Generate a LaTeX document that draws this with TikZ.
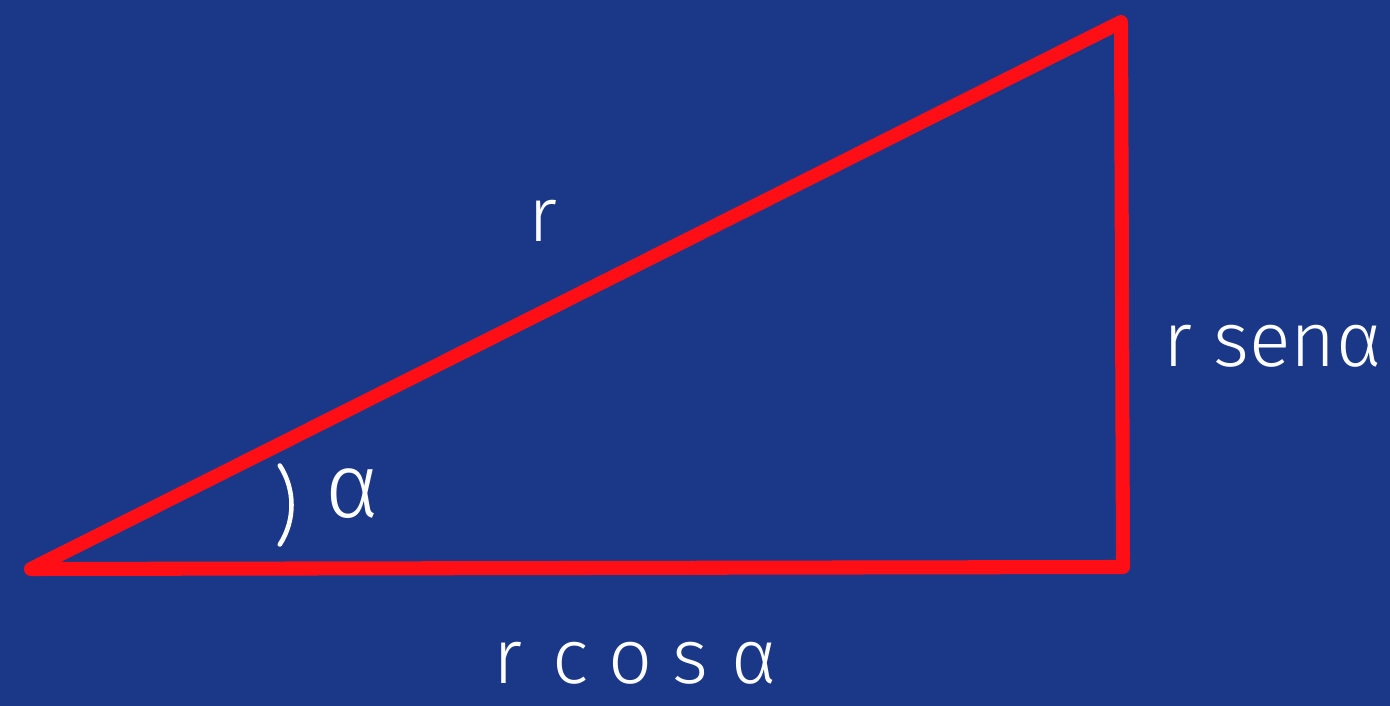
\documentclass[tikz,border=0pt]{standalone}
\usepackage{fontspec}
\setmainfont{Fira Sans Light}
\usetikzlibrary{positioning}
\definecolor{boardblue}{RGB}{26,56,135}
\definecolor{penred}{RGB}{255,14,22}
\tikzset{
  every picture/.style={line width=0.6pt},
  side/.style={draw=penred,line width=8pt,line cap=round,line join=round},
  lbl/.style={text=white,font=\fontsize{44}{50}\selectfont,inner sep=1pt},
  anglemark/.style={draw=white,line width=2.6pt,line cap=round},
}
\begin{document}
\begin{tikzpicture}[x=1cm,y=1cm]
% board
\fill[boardblue] (0,0) rectangle (27.8,14.12);
\useasboundingbox (0,0) rectangle (27.8,14.12);
% vertices
\coordinate (A) at (0.62,2.74);
\coordinate (B) at (22.46,2.78);
\coordinate (C) at (22.42,13.68);
\coordinate (M) at (4.38,4.02);
% triangle
\draw[side] (A) -- (B) -- (C) -- cycle;
% angle mark
\draw[anglemark] ([shift={(-33:1.45)}]M) arc[start angle=-33,end angle=33,radius=1.45];
% labels
\node[lbl] (hyp) at (10.85,9.7) {r};
\node[lbl] (alpha) at (7.05,4.25) {\fontsize{52}{56}\selectfont α};
\node[lbl] (opp) at (25.45,7.2) {r senα};
\node[lbl,inner sep=0pt] (adj) at (12.7,0.85) {r\hspace{0.4em}c\hspace{0.25em}o\hspace{0.25em}s\hspace{0.3em}α};
\end{tikzpicture}
\end{document}
